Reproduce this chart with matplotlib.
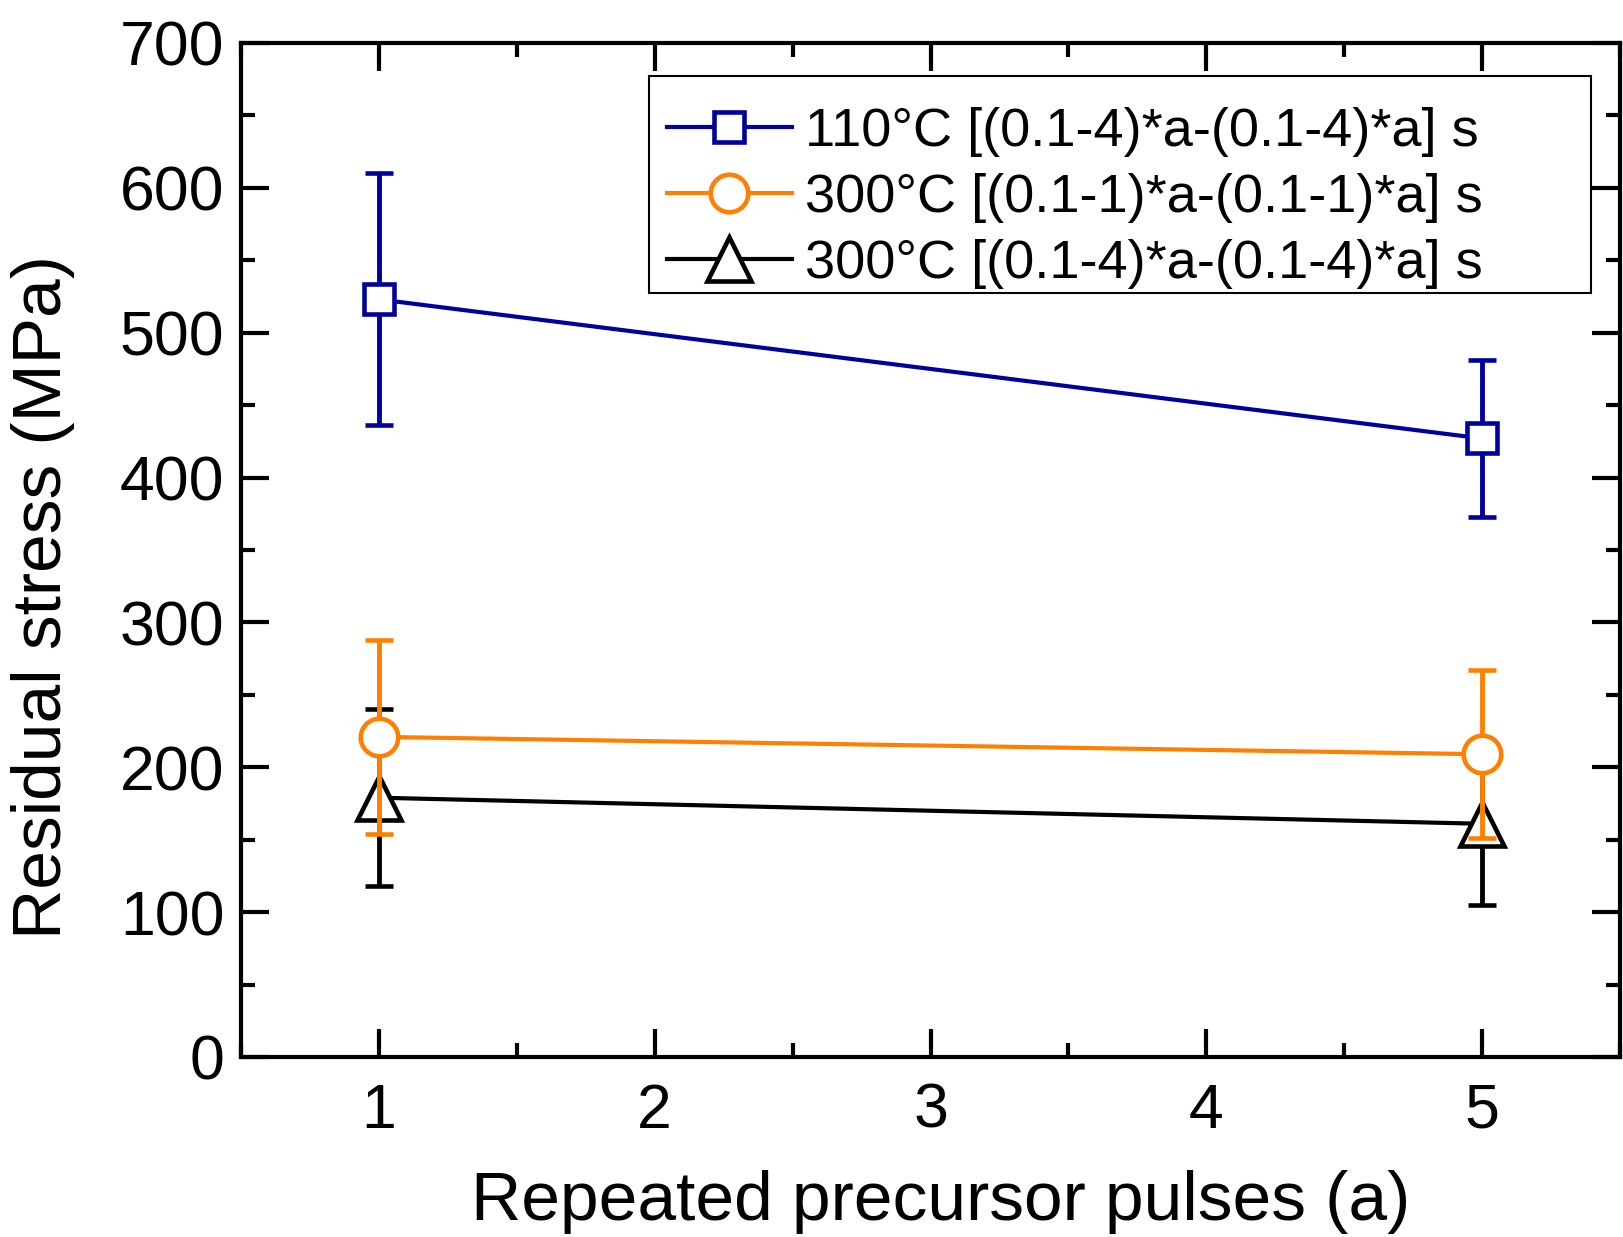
import matplotlib
matplotlib.use("Agg")
import matplotlib.pyplot as plt
from matplotlib.patches import Rectangle
from matplotlib.ticker import MultipleLocator

plt.rcParams['font.family'] = ['Liberation Sans', 'DejaVu Sans']

# 数据
pulses = [1, 5]
labels = ['110°C [(0.1-4)*a-(0.1-4)*a] s',
          '300°C [(0.1-1)*a-(0.1-1)*a] s',
          '300°C [(0.1-4)*a-(0.1-4)*a] s']
stress_110 = [523, 427]
err_110 = [87, 54]
stress_300_1 = [221, 209]
err_300_1 = [67, 58]
stress_300_4 = [179, 161]
err_300_4 = [61, 56]

colors = ['#00009C', '#FF8000', '#000000']
markers = ['s', 'o', '^']
msizes = [21, 27, 31]
zorders = [5, 4, 3]

fig = plt.figure(figsize=(16.23, 12.37), dpi=100)
ax = fig.add_axes([241/1623, 1-1057/1237, (1620-241)/1623, (1057-43)/1237])

series = [(stress_110, err_110), (stress_300_1, err_300_1), (stress_300_4, err_300_4)]
handles = []
for i in range(3):
    y, e = series[i]
    c = ax.errorbar(pulses, y, yerr=e, color=colors[i], marker=markers[i], ms=msizes[i],
                    mfc='white', mec=colors[i], mew=3.3, lw=3, elinewidth=3.5,
                    capsize=10, capthick=3.5, zorder=zorders[i])
    handles.append(c[0])

ax.set_xlim(0.5, 5.5)
ax.set_ylim(0, 700)
ax.xaxis.set_major_locator(MultipleLocator(1))
ax.xaxis.set_minor_locator(MultipleLocator(0.5))
ax.yaxis.set_major_locator(MultipleLocator(100))
ax.yaxis.set_minor_locator(MultipleLocator(50))
ax.tick_params(which='both', direction='in', top=True, right=True, width=3,
               labelsize=45)
ax.tick_params(axis='y', pad=12)
ax.tick_params(axis='x', pad=18)
ax.tick_params(which='major', length=20)
ax.tick_params(which='minor', length=10)
for s in ax.spines.values():
    s.set_linewidth(3)

ax.set_xlabel('Repeated precursor pulses (a)', fontsize=50, labelpad=21)
ax.xaxis.label.set_x(0.5076)
ax.set_ylabel('Residual stress (MPa)', fontsize=50)
ax.yaxis.set_label_coords(-0.1207, 0.4536)

# 图例框单独画，文字往下挪一点
box = Rectangle((0.2959, 0.7535), 0.6831, 0.214, transform=ax.transAxes,
                facecolor='white', edgecolor='black', lw=1.5, zorder=8)
ax.add_patch(box)
leg = ax.legend(handles, labels, loc='upper left',
                bbox_to_anchor=(0.2959, 0.7535 - 0.0133, 0.6831, 0.214), mode='expand',
                borderaxespad=0, fontsize=39, frameon=False, borderpad=0.33,
                handlelength=2.3, handletextpad=0.25, labelspacing=0.29)
leg.set_zorder(9)

plt.savefig('out.png', dpi=100)
